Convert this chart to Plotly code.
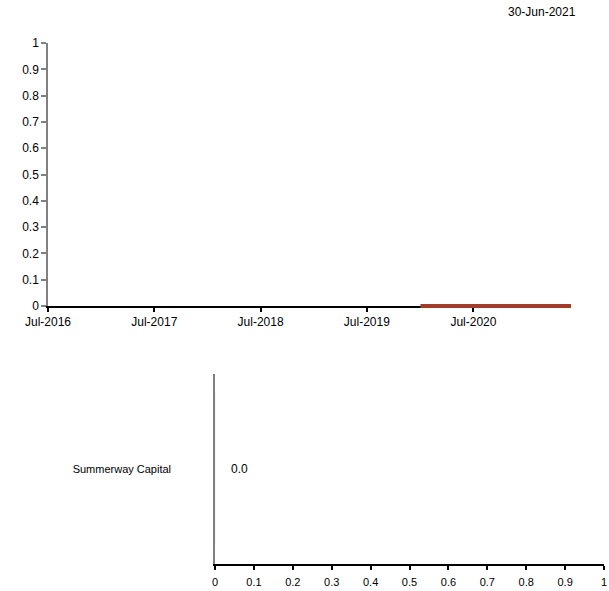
import plotly.graph_objects as go

# Top chart data (monthly, all zero)
series_dates = ["2020-01-01", "2020-02-01", "2020-03-01", "2020-04-01", "2020-05-01", "2020-06-01",
                "2020-07-01", "2020-08-01", "2020-09-01", "2020-10-01", "2020-11-01", "2020-12-01",
                "2021-01-01", "2021-02-01", "2021-03-01", "2021-04-01", "2021-05-01", "2021-06-01"]
series_values = [0.0] * len(series_dates)
x_range = ["2016-07-01", "2021-06-01"]
date_label = "30-Jun-2021"

# Bottom chart data
bar_categories = ["Summerway Capital"]
bar_values = [0.0]

W, H = 609, 591
FONT = "Liberation Sans, Arial, sans-serif"
RED = "#a33b2b"
GRAY = "#808080"

def px_x(p):
    return p / W

def px_y(p):
    return (H - p) / H

# top plot geometry (pixels)
TOP_Y1, TOP_Y0 = 43, 306
PPU = TOP_Y0 - TOP_Y1          # pixels per unit on the top y axis
PAD = 10                       # extra room below zero so the line is not clipped

fig = go.Figure()

# empty trace so the visible x/y axes form a subplot
fig.add_trace(go.Scatter(x=[], y=[], mode="lines", xaxis="x", yaxis="y",
                         showlegend=False, hoverinfo="skip"))

fig.add_trace(go.Scatter(
    x=series_dates, y=series_values, mode="lines",
    line=dict(color=RED, width=4), xaxis="x", yaxis="y3", showlegend=False,
    hoverinfo="skip"))

fig.add_trace(go.Bar(
    x=bar_values, y=bar_categories, orientation="h", marker=dict(color=RED),
    xaxis="x2", yaxis="y2", showlegend=False, hoverinfo="skip"))

for cat, val in zip(bar_categories, bar_values):
    fig.add_annotation(x=val, y=cat, xref="x2", yref="y2", text=f"{val:.1f}",
                       showarrow=False, xanchor="left", xshift=14,
                       font=dict(family=FONT, size=12, color="#000"))

fig.add_annotation(x=px_x(542), y=px_y(12), xref="paper", yref="paper",
                   text=date_label, showarrow=False, xanchor="center", yanchor="middle",
                   font=dict(family=FONT, size=12, color="#000"))

fig.update_layout(
    width=W, height=H,
    margin=dict(l=0, r=0, t=0, b=0, autoexpand=False),
    paper_bgcolor="white", plot_bgcolor="rgba(0,0,0,0)",
    font=dict(family=FONT, size=12, color="#000"),
    xaxis=dict(domain=[px_x(48), px_x(571)], anchor="y", type="date", automargin=False,
               range=x_range, tickformat="%b-%Y", dtick="M12", tick0="2016-07-01",
               showgrid=False, zeroline=False, showline=True, linecolor="#000", linewidth=2,
               ticks="outside", ticklen=4, tickcolor="#000", tickwidth=1.5,
               layer="below traces",
               tickfont=dict(family=FONT, size=12, color="#000")),
    yaxis=dict(domain=[px_y(TOP_Y0), px_y(TOP_Y1)], anchor="x", range=[0, 1], dtick=0.1,
               automargin=False,
               showgrid=False, zeroline=False, showline=True, linecolor=GRAY, linewidth=1.5,
               ticks="outside", ticklen=5, tickcolor=GRAY, tickwidth=1.5,
               tickfont=dict(family=FONT, size=12, color="#000")),
    yaxis3=dict(domain=[px_y(TOP_Y0 + PAD), px_y(TOP_Y1)], anchor="x",
                range=[-PAD / PPU, 1], visible=False, automargin=False,
                showgrid=False, zeroline=False),
    xaxis2=dict(domain=[px_x(215), px_x(604)], anchor="y2", range=[0, 1], dtick=0.1,
                automargin=False, ticklabeloverflow="allow", ticklabelstandoff=3,
                showgrid=False, zeroline=False, showline=True, linecolor="#000", linewidth=1.5,
                ticks="outside", ticklen=4, tickcolor="#000", tickwidth=1.5,
                tickfont=dict(family=FONT, size=11, color="#000")),
    yaxis2=dict(domain=[px_y(564), px_y(374)], anchor="x2", type="category", automargin=False,
                showgrid=False, zeroline=False, showline=True, linecolor=GRAY, linewidth=1.5,
                ticks="", ticklabelstandoff=40,
                tickfont=dict(family=FONT, size=11, color="#000")),
)

fig.write_html("out.html", config={"displayModeBar": False},
               post_script="document.body.style.margin='0';")
